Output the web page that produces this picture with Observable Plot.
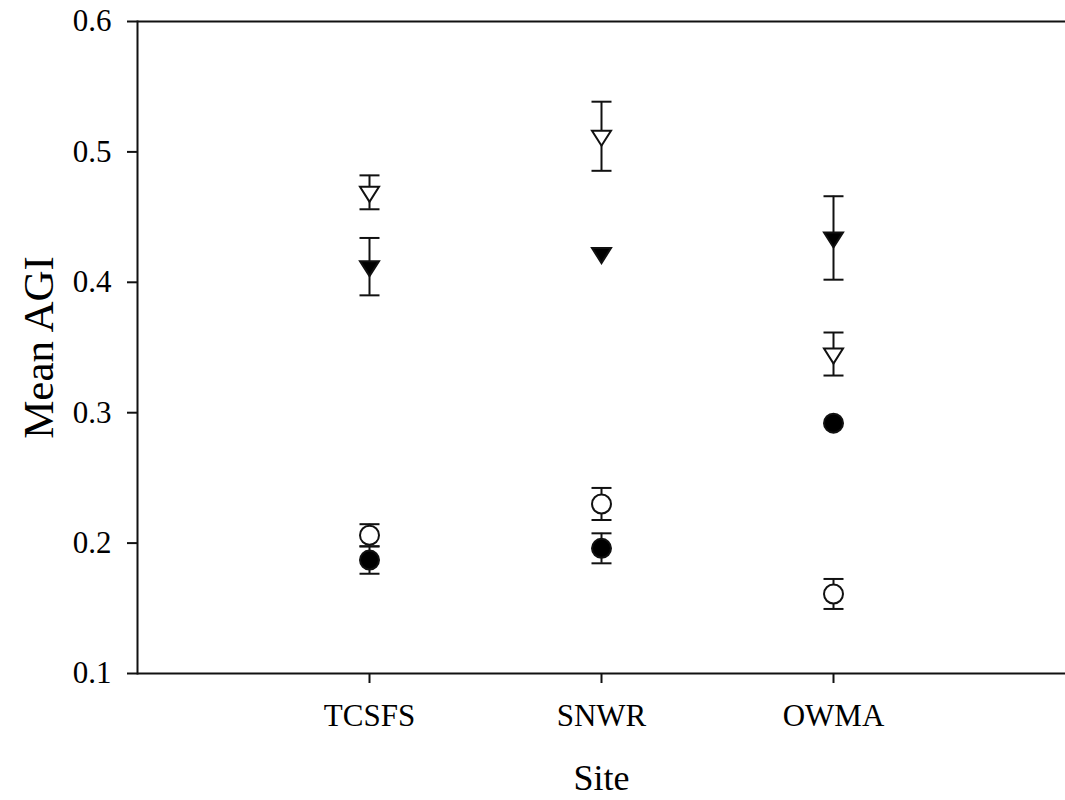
<!DOCTYPE html>
<html><head><meta charset="utf-8">
<script src="https://cdn.jsdelivr.net/npm/d3@7"></script>
<script src="https://cdn.jsdelivr.net/npm/@observablehq/plot@0.6"></script>
<style>body{margin:0;background:#fff}</style>
</head><body><div id="chart"></div>
<script>
const sites = ["TCSFS", "SNWR", "OWMA"];
const yTicks = [0.1, 0.2, 0.3, 0.4, 0.5, 0.6];

const openTriMean = [0.469, 0.512, 0.345];
const openTriSE = [0.013, 0.0265, 0.0165];
const filledTriMean = [0.412, 0.422, 0.434];
const filledTriSE = [0.022, 0, 0.032];
const openCircMean = [0.206, 0.230, 0.161];
const openCircSE = [0.0085, 0.0123, 0.0115];
const filledCircMean = [0.187, 0.196, 0.292];
const filledCircSE = [0.0105, 0.0115, 0];

const downTriangle = {draw(ctx) { ctx.moveTo(-9.5, -5.5); ctx.lineTo(9.5, -5.5); ctx.lineTo(0, 9.5); ctx.closePath(); }};
const capSymbol = {draw(ctx) { ctx.moveTo(-10, 0); ctx.lineTo(10, 0); }};

const series = [
  {name: "open triangle", mean: openTriMean, se: openTriSE, symbol: downTriangle, fill: "white"},
  {name: "filled triangle", mean: filledTriMean, se: filledTriSE, symbol: downTriangle, fill: "black"},
  {name: "open circle", mean: openCircMean, se: openCircSE, symbol: "circle", fill: "white"},
  {name: "filled circle", mean: filledCircMean, se: filledCircSE, symbol: "circle", fill: "black"}
];
const rows = series.flatMap(s => sites.map((site, i) => ({series: s.name, site, mean: s.mean[i], se: s.se[i]})));
const barRows = rows.filter(d => d.se > 0);
const capRows = barRows.flatMap(d => [{site: d.site, y: d.mean - d.se}, {site: d.site, y: d.mean + d.se}]);

const ink = "#111";
const chart = Plot.plot({
  width: 1065, height: 800,
  marginLeft: 137, marginRight: 0, marginTop: 21, marginBottom: 127,
  style: {fontFamily: "'Liberation Serif', 'Times New Roman', serif", fontSize: "31px", color: "#000", background: "#fff", overflow: "visible"},
  x: {type: "point", domain: sites, padding: 1},
  y: {domain: [0.1, 0.6]},
  marks: [
    Plot.frame({anchor: "left", stroke: ink, strokeWidth: 2}),
    Plot.ruleY([0.1, 0.6], {stroke: ink, strokeWidth: 2}),
    Plot.axisX({tickSize: 10, tickPadding: 20, stroke: ink, strokeWidth: 2, label: null, fontSize: 31}),
    Plot.axisY({ticks: yTicks, tickSize: 10, tickPadding: 16, tickFormat: d3.format(".1f"), stroke: ink, strokeWidth: 2, label: null, fontSize: 31}),
    Plot.ruleX(barRows, {x: "site", y1: d => d.mean - d.se, y2: d => d.mean + d.se, stroke: ink, strokeWidth: 2}),
    Plot.dot(capRows, {x: "site", y: "y", symbol: capSymbol, stroke: ink, strokeWidth: 2, r: 10}),
    ...series.map(s => Plot.dot(rows.filter(d => d.series === s.name), {
      x: "site", y: "mean", symbol: s.symbol, r: 9.5, fill: s.fill, stroke: ink, strokeWidth: 2
    })),
    Plot.text(["Site"], {text: d => d, frameAnchor: "bottom", dy: 105, textAnchor: "middle", lineAnchor: "middle", fontSize: 36}),
    Plot.text(["Mean AGI"], {text: d => d, frameAnchor: "left", dx: -98, rotate: -90, textAnchor: "middle", lineAnchor: "middle", fontSize: 43})
  ]
});
document.getElementById("chart").appendChild(chart);
</script>
</body></html>
